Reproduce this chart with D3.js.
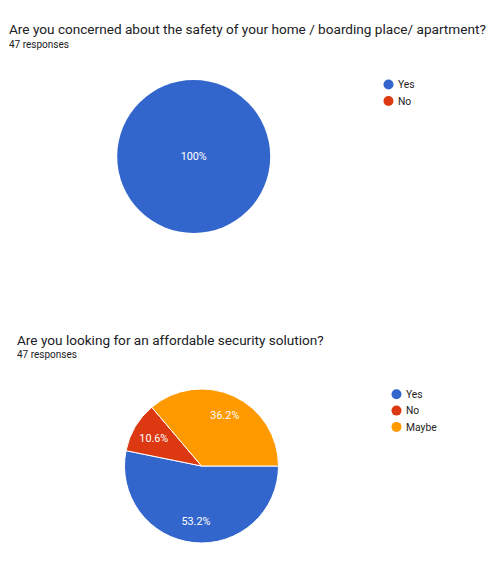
<!DOCTYPE html>
<html><head><meta charset="utf-8">
<script src="https://cdn.jsdelivr.net/npm/d3@7"></script>
<style>
html,body{margin:0;padding:0;background:#fff;}
svg{display:block;font-family:Roboto,Arial,sans-serif;}
</style></head>
<body>
<svg id="chart" width="493" height="562"></svg>
<script>
const title1 = "Are you concerned about the safety of your home / boarding place/ apartment?";
const responses1 = "47 responses";
const categories1 = ["Yes", "No"];
const values1 = [47, 0];

const title2 = "Are you looking for an affordable security solution?";
const responses2 = "47 responses";
const categories2 = ["Yes", "No", "Maybe"];
const values2 = [25, 5, 17];

const colors = ["#3366cc", "#dc3912", "#ff9900"];

const svg = d3.select("#chart");

function drawChart(cfg) {
  const g = svg.append("g");
  g.append("text").attr("x", cfg.tx).attr("y", cfg.ty)
    .attr("font-size", 13.6).attr("fill", "#202124").text(cfg.title);
  g.append("text").attr("x", cfg.tx).attr("y", cfg.ty + 13.5)
    .attr("font-size", 10).attr("fill", "#202124").text(cfg.responses);

  const data = cfg.categories.map((c, i) => ({ cat: c, value: cfg.values[i], color: colors[i] }));
  const total = d3.sum(data, d => d.value);
  const pie = d3.pie().value(d => d.value).sort(null)
    .startAngle(Math.PI / 2).endAngle(Math.PI / 2 + 2 * Math.PI);
  const arcs = pie(data);
  const arc = d3.arc().innerRadius(0).outerRadius(cfg.r);
  const labelArc = d3.arc().innerRadius(cfg.r * 0.72).outerRadius(cfg.r * 0.72);
  const pg = g.append("g").attr("transform", `translate(${cfg.cx},${cfg.cy})`);
  const nonzero = arcs.filter(a => a.data.value > 0);
  pg.selectAll("path").data(nonzero).enter().append("path")
    .attr("d", arc).attr("fill", d => d.data.color)
    .attr("stroke", nonzero.length > 1 ? "#fff" : "none").attr("stroke-width", 1);
  pg.selectAll("text").data(nonzero).enter().append("text")
    .attr("transform", d => nonzero.length === 1 ? "translate(0,0)" : `translate(${labelArc.centroid(d)})`)
    .attr("text-anchor", "middle").attr("dy", "0.35em")
    .attr("font-size", 10.8).attr("fill", "#fff")
    .text(d => {
      const p = d.data.value / total * 100;
      return p === 100 ? "100%" : p.toFixed(1) + "%";
    });

  const lg = g.append("g");
  data.forEach((d, i) => {
    lg.append("circle").attr("cx", cfg.lx).attr("cy", cfg.ly + i * cfg.ls)
      .attr("r", 5).attr("fill", d.color);
    lg.append("text").attr("x", cfg.lx + 9.5).attr("y", cfg.ly + i * cfg.ls)
      .attr("dy", "0.35em").attr("font-size", 10.3).attr("fill", "#222").text(d.cat);
  });
}

drawChart({ title: title1, responses: responses1, categories: categories1, values: values1,
  tx: 9, ty: 34, cx: 193.7, cy: 156.5, r: 76.5, lx: 388.5, ly: 84.5, ls: 16.5 });
drawChart({ title: title2, responses: responses2, categories: categories2, values: values2,
  tx: 17, ty: 344.5, cx: 201.5, cy: 466, r: 77, lx: 396.5, ly: 394.3, ls: 16.3 });
</script>
</body></html>
